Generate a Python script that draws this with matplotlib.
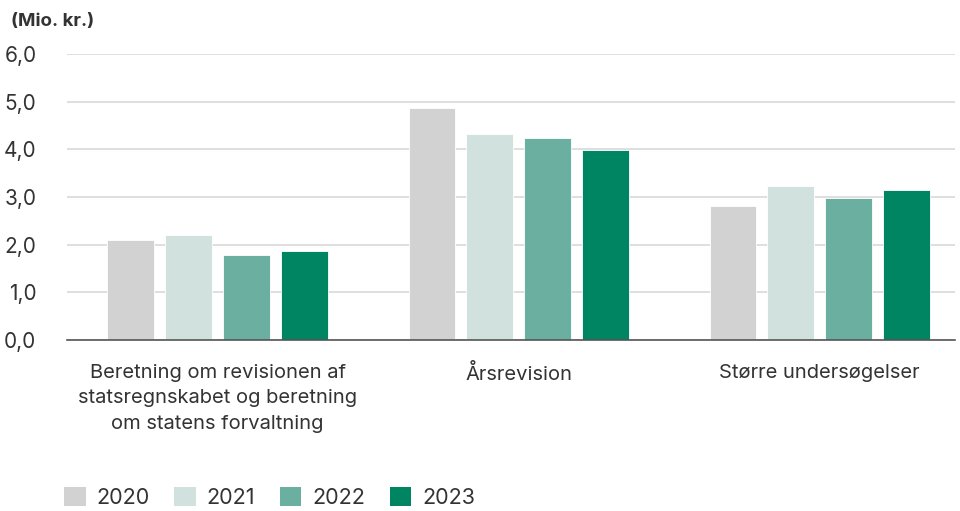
import matplotlib.pyplot as plt
import numpy as np
from matplotlib.patches import Patch

plt.rcParams['font.family'] = ['Inter', 'DejaVu Sans']

# data
kategorier = ["Beretning om revisionen af\nstatsregnskabet og beretning\nom statens forvaltning",
              "Årsrevision",
              "Større undersøgelser"]
aar = ["2020", "2021", "2022", "2023"]
v2020 = [2.10, 4.86, 2.81]
v2021 = [2.20, 4.32, 3.23]
v2022 = [1.78, 4.23, 2.98]
v2023 = [1.87, 3.98, 3.14]
farver = ["#d2d2d2", "#d1e1dd", "#6bafa0", "#008562"]
yticks = [0, 1, 2, 3, 4, 5, 6]
ylabels = ["0,0", "1,0", "2,0", "3,0", "4,0", "5,0", "6,0"]

tekst = "#333333"

fig = plt.figure(figsize=(9.6, 5.11), dpi=100)
ax = fig.add_axes([0.0698, 0.3346, 0.925, 0.5594])

x = np.arange(len(kategorier))
bredde = 0.155
trin = 0.192
serier = [v2020, v2021, v2022, v2023]
for i, vals in enumerate(serier):
    ax.bar(x + (i - 1.5) * trin, vals, width=bredde, color=farver[i],
           edgecolor="white", linewidth=0.6, zorder=3)

ax.set_xlim(-0.5, 2.45)
ax.set_ylim(0, 6)
ax.set_yticks(yticks)
ax.set_yticklabels(ylabels, fontsize=15, color=tekst)
ax.yaxis.grid(True, color="#dcdcdc", linewidth=1.3, zorder=0)
ax.tick_params(axis="y", length=0, pad=22)
ax.set_xticks(x)
ax.set_xticklabels(kategorier, fontsize=14.5, color=tekst, linespacing=1.55, va="top")
ax.tick_params(axis="x", length=0, pad=17)
for s in ["top", "right", "left"]:
    ax.spines[s].set_visible(False)
ax.spines["bottom"].set_color("#555555")
ax.spines["bottom"].set_linewidth(1.2)
ax.spines["bottom"].set_zorder(4)

fig.text(0.011, 0.958, "(Mio. kr.)", fontsize=13.5, fontweight="bold", color=tekst,
         va="center", ha="left")

handles = [Patch(facecolor=c, edgecolor="none") for c in farver]
fig.legend(handles, aar, loc="lower left", bbox_to_anchor=(0.0667, 0.006), ncol=4,
           frameon=False, fontsize=15.5, handlelength=1.0, handleheight=1.0,
           handletextpad=0.5, columnspacing=1.15, labelcolor=tekst, borderpad=0,
           borderaxespad=0)

fig.savefig("out.png", dpi=100)
